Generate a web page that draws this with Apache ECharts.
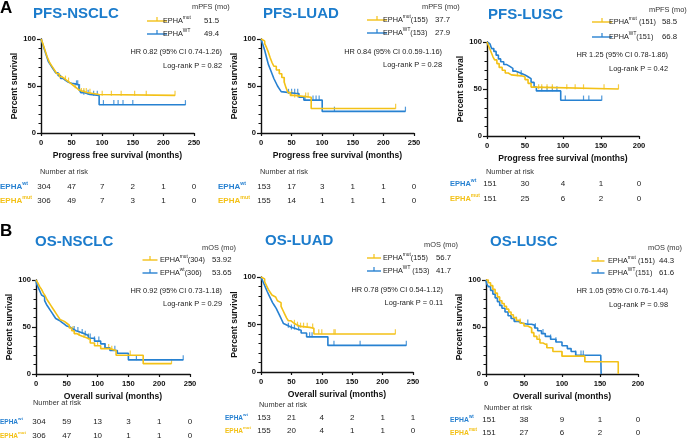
<!DOCTYPE html>
<html>
<head>
<meta charset="utf-8">
<title>EPHA KM curves</title>
<script src="https://cdn.jsdelivr.net/npm/echarts@6/dist/echarts.min.js"></script>
<style>html,body{margin:0;padding:0;background:#fff;}</style>
</head>
<body>
<div id="main" style="width:687px;height:439px;"></div>
<script type="text/javascript">
var YEL = '#F3C117', BLU = '#2781D1', TBLU = '#1C7CCC';
var FONT = '"Liberation Sans", Arial, sans-serif';

// ---- texts ----
var panelTitles = ['PFS-NSCLC', 'PFS-LUAD', 'PFS-LUSC', 'OS-NSCLC', 'OS-LUAD', 'OS-LUSC'];
var xAxisTitles = ['Progress free survival (months)', 'Progress free survival (months)', 'Progress free survival (months)',
    'Overall surival (months)', 'Overall surival (months)', 'Overall surival (months)'];
var xMaxes = [250, 250, 200, 250, 250, 200];
var medianHeads = ['mPFS (mo)', 'mPFS (mo)', 'mPFS (mo)', 'mOS (mo)', 'mOS (mo)', 'mOS (mo)'];
var legMutSup = ['mut', 'mut', 'mut', 'mut', 'mut', 'mut'];
var legMutTail = ['', '(155)', ' (151)', '(304)', '(155)', ' (151)'];
var legWtSup = ['WT', 'WT', 'WT', 'wt', 'WT', 'WT'];
var legWtTail = ['', '(153)', '(151)', '(306)', ' (153)', '(151)'];
var medianMut = ['51.5', '37.7', '58.5', '53.92', '56.7', '44.3'];
var medianWt = ['49.4', '27.9', '66.8', '53.65', '41.7', '61.6'];
var hrTexts = ['HR 0.82 (95% CI 0.74-1.26)', 'HR 0.84 (95% CI 0.0.59-1.16)', 'HR 1.25 (95% CI 0.78-1.86)',
    'HR 0.92 (95% CI 0.73-1.18)', 'HR 0.78 (95% CI 0.54-1.12)', 'HR 1.05 (95% CI 0.76-1.44)'];
var logRankTexts = ['Log-rank P = 0.82', 'Log-rank P = 0.28', 'Log-rank P = 0.42',
    'Log-rank P = 0.29', 'Log-rank P = 0.11', 'Log-rank P = 0.98'];

// ---- number at risk ----
var riskTimes = [[0, 50, 100, 150, 200, 250], [0, 50, 100, 150, 200, 250], [0, 50, 100, 150, 200],
    [0, 50, 100, 150, 200, 250], [0, 50, 100, 150, 200, 250], [0, 50, 100, 150, 200]];
var riskWt = [[304, 47, 7, 2, 1, 0], [153, 17, 3, 1, 1, 0], [151, 30, 4, 1, 0],
    [304, 59, 13, 3, 1, 0], [153, 21, 4, 2, 1, 1], [151, 38, 9, 1, 0]];
var riskMut = [[306, 49, 7, 3, 1, 0], [155, 14, 1, 1, 1, 0], [151, 25, 6, 2, 0],
    [306, 47, 10, 1, 1, 0], [155, 20, 4, 1, 1, 0], [151, 27, 6, 2, 0]];

// ---- survival curves [month, percent] ----
var pfsNsclcMut = [[0,100],[2,97],[4,93],[6,89],[8,85],[10,81],[12,78],[14,75],[17,72],[20,69],[23,66],[26,63],[30,60],[34,58],[38,56],[42,54],[46,52],[50,50],[54,48],[58,46],[62,45],[66,43],[75,42],[85,41],[95,40],[219,40]];
var pfsNsclcWt = [[0,100],[2,96],[4,92],[6,88],[8,84],[10,80],[12,76],[15,73],[18,70],[21,67],[24,64],[28,61],[32,58],[36,56],[40,54],[45,53],[50,52],[58,51],[62,47],[65,43],[70,41],[80,40],[95,30],[236,30]];
var pfsLuadMut = [[0,100],[3,98],[6,95],[9,91],[12,86],[15,80],[18,75],[21,71],[25,67],[30,63],[34,59],[38,54],[41,48],[44,43],[48,40],[55,38],[82,26],[220,26]];
var pfsLuadWt = [[0,100],[2,96],[4,92],[6,88],[8,83],[10,78],[12,73],[15,68],[18,63],[21,58],[24,54],[27,50],[30,47],[33,44],[36,42],[58,42],[62,38],[70,35],[100,23],[236,23]];
var pfsLuscMut = [[0,100],[2,96],[4,92],[6,88],[8,84],[10,81],[13,77],[16,73],[20,70],[24,67],[28,65],[32,64],[45,63],[50,60],[54,56],[58,52],[62,50],[173,50]];
var pfsLuscWt = [[0,100],[2,98],[4,96],[6,93],[9,90],[12,86],[15,82],[18,79],[22,76],[26,74],[30,72],[34,69],[38,67],[44,65],[50,63],[54,61],[58,57],[62,52],[65,48],[97,38],[151,38]];
var osNsclcMut = [[0,100],[3,97],[6,93],[9,90],[12,86],[15,83],[18,79],[21,76],[24,73],[27,70],[30,67],[33,64],[36,61],[39,58],[42,56],[46,54],[50,52],[54,49],[58,46],[62,43],[66,41],[72,39],[80,37],[88,33],[95,30],[105,27],[120,25],[130,20],[174,11],[220,11]];
var osNsclcWt = [[0,100],[1,96],[3,93],[5,90],[7,87],[9,84],[11,82],[14,78],[17,74],[20,71],[23,68],[26,65],[29,62],[32,59],[35,57],[38,55],[42,53],[46,51],[50,50],[55,48],[60,46],[65,45],[70,43],[78,41],[85,38],[95,35],[105,32],[112,28],[120,25],[132,22],[150,15],[239,15]];
var osLuadMut = [[0,100],[3,98],[6,95],[9,91],[12,87],[15,84],[18,81],[21,79],[24,77],[27,75],[30,73],[33,69],[36,65],[39,61],[42,57],[45,54],[49,52],[53,50],[58,48],[65,47],[80,46],[87,40],[221,40]];
var osLuadWt = [[0,100],[2,97],[4,94],[6,91],[8,88],[10,85],[13,81],[16,77],[19,73],[22,70],[25,67],[28,63],[31,59],[34,55],[37,51],[40,49],[44,47],[50,45],[60,44],[66,41],[75,37],[110,28],[239,28]];
var osLuscMut = [[0,100],[3,97],[6,94],[9,90],[12,86],[15,82],[18,78],[21,75],[24,72],[27,69],[30,66],[33,63],[36,60],[40,57],[45,54],[50,51],[55,49],[60,44],[63,40],[67,37],[71,33],[75,31],[80,28],[88,24],[100,19],[130,13],[174,0]];
var osLuscWt = [[0,100],[1,96],[3,93],[6,89],[9,85],[12,81],[15,77],[18,73],[21,70],[25,66],[29,62],[33,59],[37,56],[42,54],[48,53],[55,53],[60,52],[64,49],[68,46],[73,43],[78,40],[85,37],[92,34],[100,30],[107,27],[112,24],[118,20],[151,20],[151.5,0]];

// ---- censor times ----
var pfsNsclcMutCens = [40, 45, 56, 62, 66, 70, 74, 80, 100, 115, 131, 153, 172, 219];
var pfsNsclcWtCens = [58, 60, 63, 70, 77, 86, 92, 102, 119, 126, 134, 150, 236];
var pfsLuadMutCens = [30, 38, 50, 55, 60, 73, 77, 220];
var pfsLuadWtCens = [45, 50, 55, 60, 72, 85, 90, 95, 120, 236];
var pfsLuscMutCens = [40, 68, 72, 79, 86, 105, 116, 127, 154, 173];
var pfsLuscWtCens = [45, 72, 79, 86, 92, 103, 127, 134, 151];
var osNsclcMutCens = [60, 70, 78, 85, 100, 118, 123, 153, 220];
var osNsclcWtCens = [62, 68, 75, 80, 85, 88, 95, 102, 112, 128, 163, 239];
var osLuadMutCens = [55, 60, 65, 70, 76, 85, 95, 100, 120, 122, 221];
var osLuadWtCens = [45, 50, 55, 62, 80, 84, 120, 163, 239];
var osLuscMutCens = [45, 60, 70, 80, 100, 130];
var osLuscWtCens = [40, 55, 65, 75, 85, 92, 118, 125, 128];

var curvesMut = [pfsNsclcMut, pfsLuadMut, pfsLuscMut, osNsclcMut, osLuadMut, osLuscMut];
var curvesWt = [pfsNsclcWt, pfsLuadWt, pfsLuscWt, osNsclcWt, osLuadWt, osLuscWt];
var censMut = [pfsNsclcMutCens, pfsLuadMutCens, pfsLuscMutCens, osNsclcMutCens, osLuadMutCens, osLuscMutCens];
var censWt = [pfsNsclcWtCens, pfsLuadWtCens, pfsLuscWtCens, osNsclcWtCens, osLuadWtCens, osLuscWtCens];

// ---- layout (pixels) ----
var L = [
    {grid: [41, 39, 153, 94], title: [33, 14], head: [192, 7], legY: [21, 34], markX: 157, markW: 20, textX: 163, valX: 204, hrX: 222, hrY: 52, lrY: 66, nar: [40, 172], rowY: [187, 201], rowX: 0, rowFs: 8},
    {grid: [261, 39, 153, 94], title: [263, 14], head: [422, 7], legY: [20, 33], markX: 377, markW: 20, textX: 383, valX: 435, hrX: 442, hrY: 52, lrY: 65, nar: [260, 172], rowY: [187, 201], rowX: 218, rowFs: 8},
    {grid: [487, 42, 152, 94], title: [488, 15], head: [649, 10], legY: [22, 37], markX: 602, markW: 20, textX: 609, valX: 662, hrX: 668, hrY: 55, lrY: 69, nar: [486, 172], rowY: [184, 199], rowX: 450, rowFs: 7.5},
    {grid: [36, 280, 154, 94], title: [35, 242], head: [202, 248], legY: [260, 273], markX: 150, markW: 15, textX: 160, valX: 212, hrX: 222, hrY: 291, lrY: 304, nar: [33, 403], rowY: [422, 436], rowX: 0, rowFs: 6.5},
    {grid: [261, 277, 152, 95], title: [265, 241], head: [424, 245], legY: [258, 271], markX: 374, markW: 14, textX: 383, valX: 436, hrX: 443, hrY: 290, lrY: 303, nar: [259, 405], rowY: [418, 431], rowX: 225, rowFs: 6.5},
    {grid: [486, 280, 152, 94], title: [490, 242], head: [648, 248], legY: [261, 273], markX: 598, markW: 13, textX: 608, valX: 659, hrX: 668, hrY: 291, lrY: 305, nar: [484, 408], rowY: [420, 433], rowX: 450, rowFs: 6.8}
];

function stepAt(curve, t) {
    var v = curve[0][1];
    for (var i = 0; i < curve.length; i++) {
        if (curve[i][0] <= t) v = curve[i][1];
    }
    return v;
}

var myChart = echarts.init(document.getElementById('main'));

var grids = [], xAxes = [], yAxes = [], series = [];
for (var i = 0; i < 6; i++) {
    var g = L[i].grid;
    grids.push({left: g[0], top: g[1], width: g[2], height: g[3], containLabel: false});
    xAxes.push({
        type: 'value', gridIndex: i, min: 0, max: xMaxes[i], interval: 50,
        name: xAxisTitles[i], nameLocation: 'middle', nameGap: 18,
        nameTextStyle: {fontFamily: FONT, fontWeight: 'bold', fontSize: 8.6, color: '#111'},
        axisLine: {onZero: false, lineStyle: {color: '#111', width: 1.4}},
        axisTick: {length: 3, lineStyle: {color: '#111', width: 1.2}},
        axisLabel: {margin: 6, fontFamily: FONT, fontWeight: 'bold', fontSize: 7.6, color: '#111'},
        splitLine: {show: false}
    });
    yAxes.push({
        type: 'value', gridIndex: i, min: 0, max: 100, interval: 50,
        name: 'Percent survival', nameLocation: 'middle', nameGap: 18, nameRotate: 90,
        nameTextStyle: {fontFamily: FONT, fontWeight: 'bold', fontSize: 8.6, color: '#111'},
        axisLine: {show: true, onZero: false, lineStyle: {color: '#111', width: 1.4}},
        axisTick: {show: true, length: 4, lineStyle: {color: '#111', width: 1.2}},
        minorTick: {show: true, splitNumber: 5, length: 2.5, lineStyle: {color: '#111', width: 1}},
        axisLabel: {margin: 5, fontFamily: FONT, fontWeight: 'bold', fontSize: 7.6, color: '#111'},
        splitLine: {show: false}
    });
    var pairs = [[curvesWt[i], censWt[i], BLU], [curvesMut[i], censMut[i], YEL]];
    pairs.forEach(function (p) {
        series.push({
            type: 'line', xAxisIndex: i, yAxisIndex: i, data: p[0], step: 'end',
            symbol: 'none', clip: false, silent: true,
            lineStyle: {color: p[2], width: 1.6}
        });
        series.push({
            type: 'scatter', xAxisIndex: i, yAxisIndex: i, silent: true, clip: false,
            data: p[1].map(function (t) { return [t, stepAt(p[0], t)]; }),
            symbol: 'rect', symbolSize: [1.2, 5], symbolOffset: [0, -2.2],
            itemStyle: {color: p[2]}
        });
    });
}

myChart.setOption({
    animation: false,
    backgroundColor: '#fff',
    grid: grids,
    xAxis: xAxes,
    yAxis: yAxes,
    series: series
});

// ---- text overlays ----
function txt(x, y, text, o) {
    o = o || {};
    return {
        type: 'text', x: x, y: y, silent: true,
        style: {
            text: text, fill: o.color || '#222',
            fontFamily: FONT, fontSize: o.size || 8, fontWeight: o.weight || 'normal',
            align: o.align || 'left', verticalAlign: 'middle',
            textAlign: o.align || 'left', textVerticalAlign: 'middle',
            rich: o.rich
        }
    };
}
function supText(x, y, sup, tail, size, color, weight, align) {
    var base = {fontFamily: FONT, fontSize: size, fontWeight: weight, fill: color, color: color, lineHeight: size + 4};
    var s = {fontFamily: FONT, fontSize: size * 0.66, fontWeight: weight, fill: color, color: color, verticalAlign: 'top'};
    var t = '{a|EPHA}{s|' + sup + '}' + (tail ? '{a|' + tail + '}' : '');
    return txt(x, y, t, {rich: {a: base, s: s}, align: align || 'left'});
}
function legendMark(cx, y, w, color) {
    return {
        type: 'group', silent: true,
        children: [
            {type: 'line', shape: {x1: cx - w / 2, y1: y, x2: cx + w / 2, y2: y}, style: {stroke: color, lineWidth: 1.4}},
            {type: 'line', shape: {x1: cx, y1: y - 4, x2: cx, y2: y}, style: {stroke: color, lineWidth: 1.2}}
        ]
    };
}

var gr = [];
gr.push(txt(0, 8, 'A', {size: 17, weight: 'bold', color: '#000'}));
gr.push(txt(0, 231, 'B', {size: 17, weight: 'bold', color: '#000'}));
for (var k = 0; k < 6; k++) {
    var l = L[k];
    // short extension of the y axis line above 100, as in the source figure
    var top = myChart.convertToPixel({gridIndex: k}, [0, 100]);
    gr.push({type: 'line', silent: true, shape: {x1: top[0], y1: top[1], x2: top[0], y2: top[1] - 5},
        style: {stroke: '#111', lineWidth: 1.4}});
    gr.push(txt(l.title[0], l.title[1], panelTitles[k], {size: 15, weight: 'bold', color: TBLU}));
    gr.push(txt(l.head[0], l.head[1], medianHeads[k], {size: 7.4, color: '#333'}));
    gr.push(legendMark(l.markX, l.legY[0], l.markW, YEL));
    gr.push(legendMark(l.markX, l.legY[1], l.markW, BLU));
    gr.push(supText(l.textX, l.legY[0], legMutSup[k], legMutTail[k], 7.3, '#222', 'normal'));
    gr.push(supText(l.textX, l.legY[1], legWtSup[k], legWtTail[k], 7.3, '#222', 'normal'));
    gr.push(txt(l.valX, l.legY[0], medianMut[k], {size: 7.8}));
    gr.push(txt(l.valX, l.legY[1], medianWt[k], {size: 7.8}));
    gr.push(txt(l.hrX, l.hrY, hrTexts[k], {size: 7.4, align: 'right'}));
    gr.push(txt(l.hrX, l.lrY, logRankTexts[k], {size: 7.4, align: 'right'}));
    gr.push(txt(l.nar[0], l.nar[1], 'Number at risk', {size: 7.4, color: '#333'}));
    gr.push(supText(l.rowX, l.rowY[0], 'wt', '', l.rowFs, BLU, 'bold'));
    gr.push(supText(l.rowX, l.rowY[1], 'mut', '', l.rowFs, YEL, 'bold'));
    for (var j = 0; j < riskTimes[k].length; j++) {
        var px = myChart.convertToPixel({xAxisIndex: k}, riskTimes[k][j]) + (j === 0 ? 3 : 0);
        gr.push(txt(px, l.rowY[0], String(riskWt[k][j]), {size: 8, align: 'center', color: '#222'}));
        gr.push(txt(px, l.rowY[1], String(riskMut[k][j]), {size: 8, align: 'center', color: '#222'}));
    }
}
myChart.setOption({graphic: gr});
</script>
</body>
</html>
